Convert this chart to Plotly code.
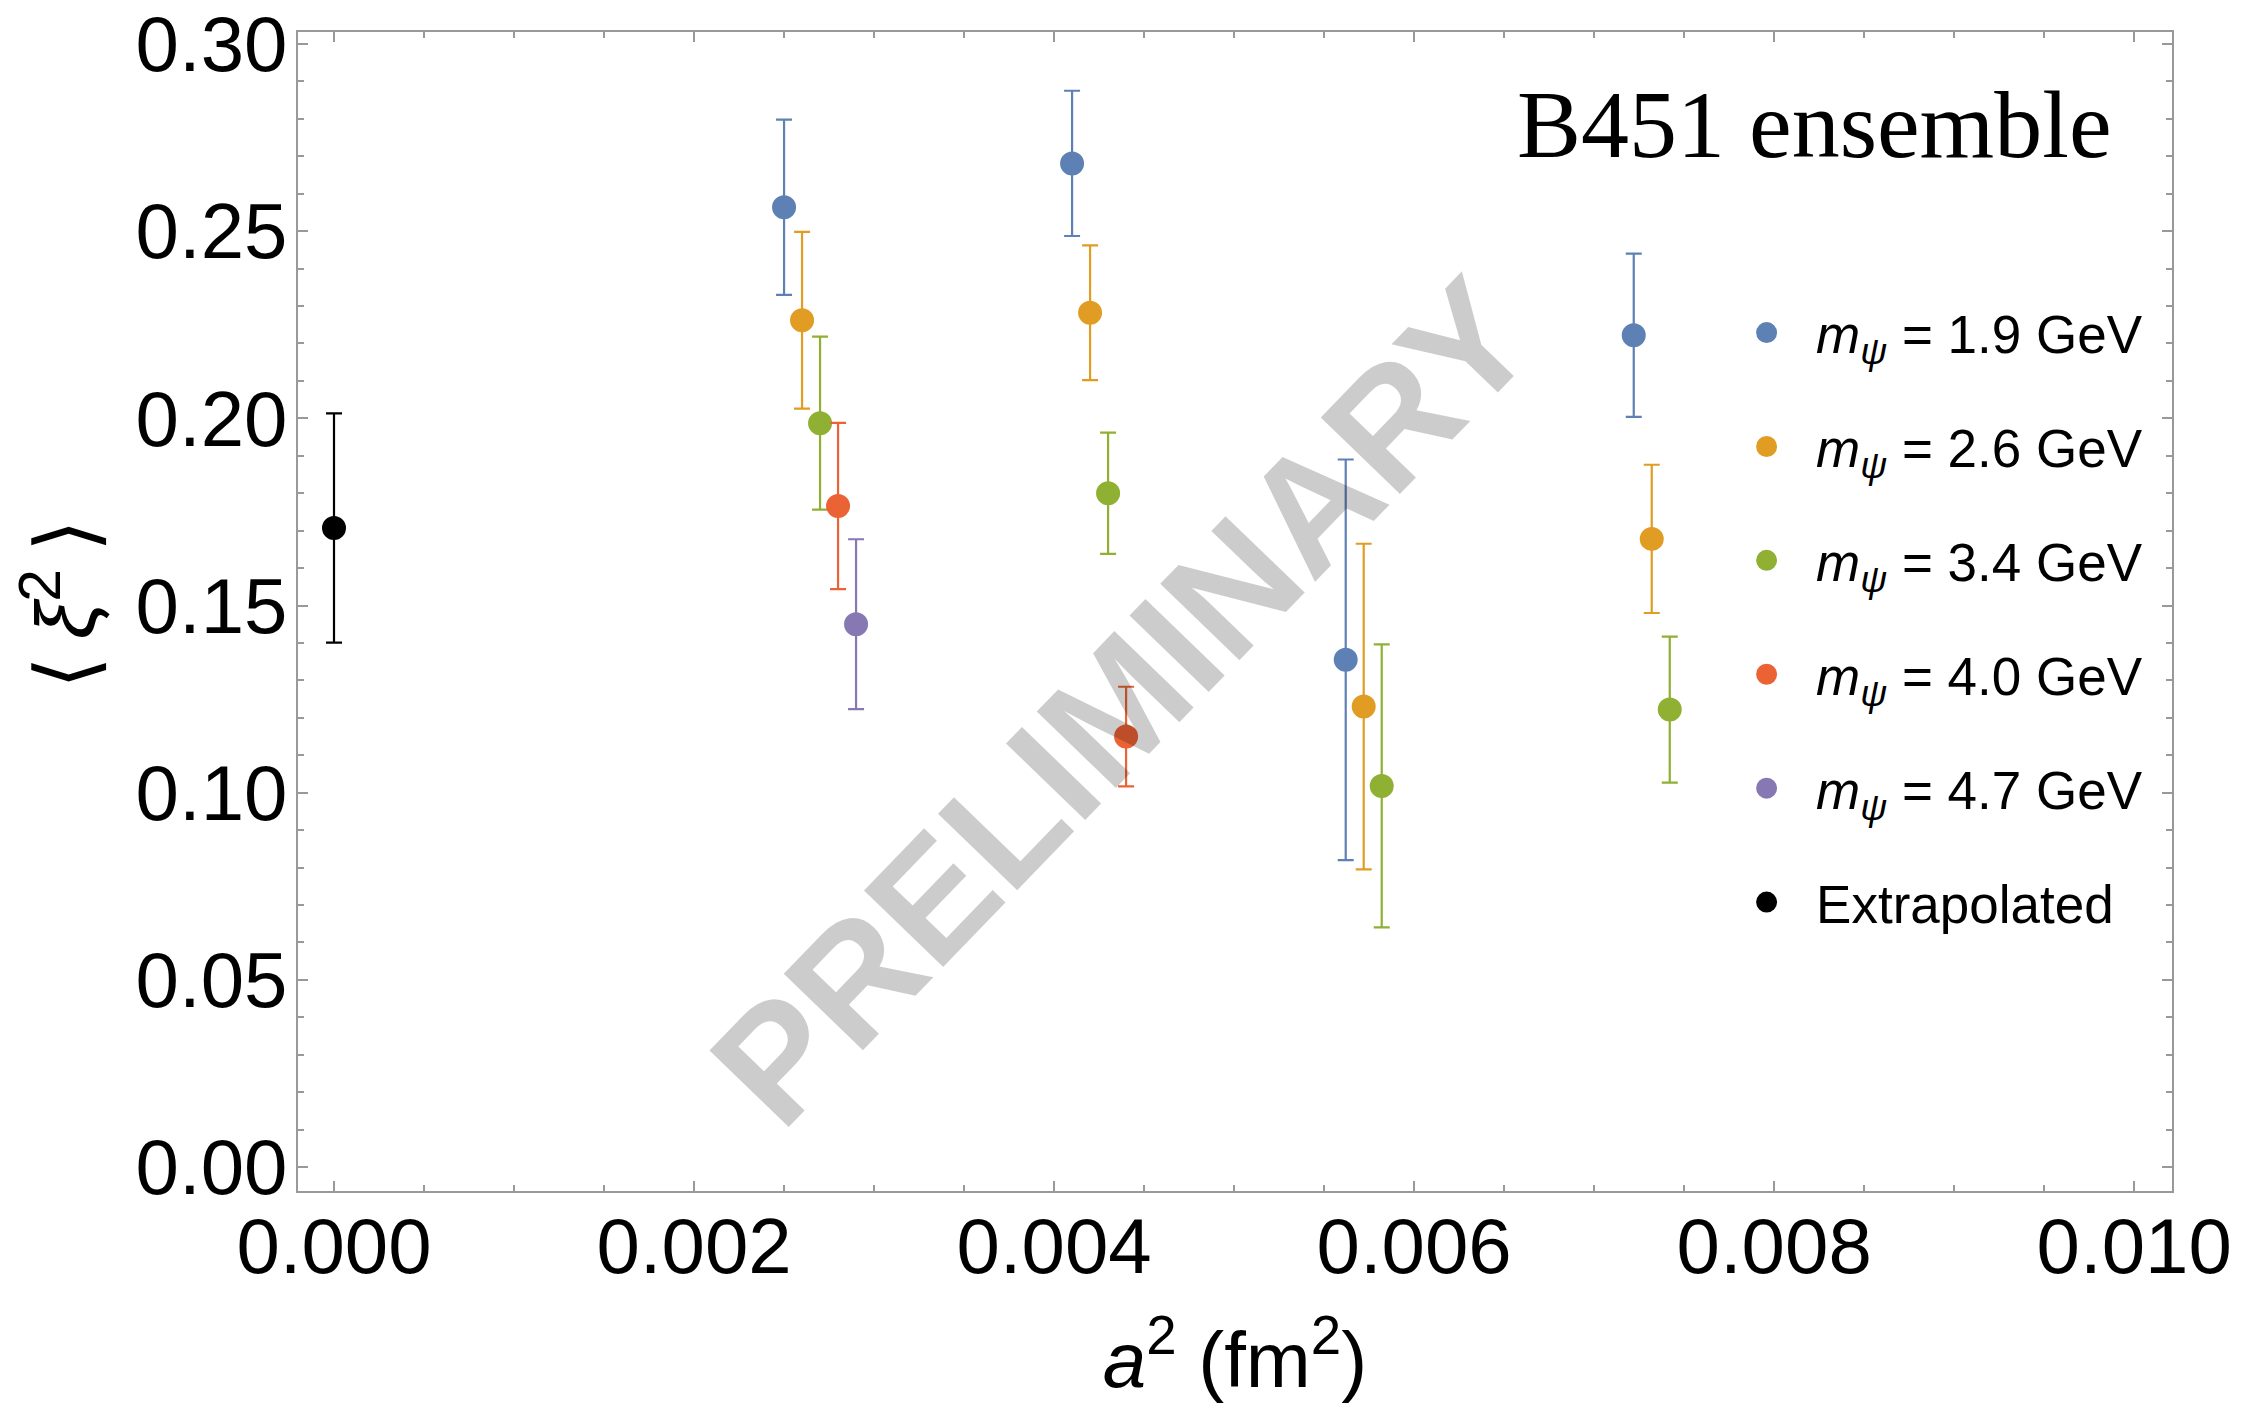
import plotly.graph_objects as go

# ---- data ----
a2_19 = [0.0025, 0.0041, 0.00562, 0.00722]
xi2_19 = [0.2564, 0.2681, 0.1355, 0.2222]
err_19 = [0.0234, 0.0194, 0.0535, 0.0218]

a2_26 = [0.0026, 0.0042, 0.00572, 0.00732]
xi2_26 = [0.2262, 0.2282, 0.1230, 0.1678]
err_26 = [0.0236, 0.0180, 0.0435, 0.0198]

a2_34 = [0.0027, 0.0043, 0.00582, 0.00742]
xi2_34 = [0.1987, 0.1800, 0.1018, 0.1222]
err_34 = [0.0231, 0.0162, 0.0378, 0.0195]

a2_40 = [0.0028, 0.0044]
xi2_40 = [0.1766, 0.1150]
err_40 = [0.0222, 0.0133]

a2_47 = [0.0029]
xi2_47 = [0.1450]
err_47 = [0.0227]

a2_ex = [0.0]
xi2_ex = [0.1707]
err_ex = [0.0306]

labels = ["1.9", "2.6", "3.4", "4.0", "4.7"]
colors = ["#5E81B5", "#E19C24", "#8FB032", "#EB6235", "#8778B3"]

x_ticks = [0.000, 0.002, 0.004, 0.006, 0.008, 0.010]
y_ticks = [0.00, 0.05, 0.10, 0.15, 0.20, 0.25, 0.30]

FONT = "Liberation Sans"
NB = "\u00a0"

fig = go.Figure()

series = [
    (a2_19, xi2_19, err_19),
    (a2_26, xi2_26, err_26),
    (a2_34, xi2_34, err_34),
    (a2_40, xi2_40, err_40),
    (a2_47, xi2_47, err_47),
]
for i, (xs, ys, es) in enumerate(series):
    fig.add_trace(go.Scatter(
        x=xs, y=ys, mode="markers",
        name=NB * 2 + f"<i>m</i><sub><i>ψ</i></sub> = {labels[i]} GeV",
        legendgroup=f"g{i}",
        marker=dict(color=colors[i], size=19, line=dict(width=5, color=colors[i])),
        error_y=dict(type="data", array=es, visible=True, color=colors[i],
                     thickness=2.2, width=8),
    ))

fig.add_trace(go.Scatter(
    x=a2_ex, y=xi2_ex, mode="markers",
    name=NB * 2 + "Extrapolated", legendgroup="gex",
    marker=dict(color="black", size=19, line=dict(width=5, color="black")),
    error_y=dict(type="data", array=err_ex, visible=True, color="black",
                 thickness=2.2, width=8),
))

axis_common = dict(
    showgrid=False, zeroline=False, showline=True, linecolor="#999999",
    linewidth=2, ticks="inside", tickcolor="#999999", tickwidth=2,
    ticklen=10, mirror="allticks", automargin=False,
    tickfont=dict(family=FONT, size=78, color="black"),
)

fig.update_xaxes(
    range=[-0.0002, 0.01021], tickvals=x_ticks,
    ticktext=[f"{v:.3f}" for v in x_ticks], ticklabelstandoff=-14,
    minor=dict(dtick=0.0005, tick0=0, ticks="inside", ticklen=6,
               tickcolor="#999999", tickwidth=2),
    title=dict(text="<i>a</i><sup>2</sup> (fm<sup>2</sup>)",
               font=dict(family=FONT, size=78, color="black"), standoff=44),
    **axis_common,
)
fig.update_yaxes(
    range=[-0.0064, 0.3032], tickvals=y_ticks,
    ticktext=[f"{v:.2f}" for v in y_ticks], ticklabelstandoff=-7,
    minor=dict(dtick=0.01, tick0=0, ticks="inside", ticklen=6,
               tickcolor="#999999", tickwidth=2),
    **axis_common,
)

# y-axis title (as rotated annotation so it is not clamped to the margin)
fig.add_annotation(
    text="⟨\u2009<i>ξ</i><sup>2</sup>\u2009⟩", xref="paper", yref="paper",
    x=-0.1270, y=0.5063, xanchor="center", yanchor="middle",
    textangle=-90, showarrow=False,
    font=dict(family=FONT, size=84, color="black"),
)

fig.add_annotation(
    text="B451 ensemble", xref="paper", yref="paper", x=0.969, y=0.920,
    xanchor="right", yanchor="middle", showarrow=False,
    font=dict(family="Liberation Serif", size=96, color="black"),
)

fig.add_annotation(
    text="PRELIMINARY", xref="x", yref="y", x=0.00438, y=0.1243,
    showarrow=False, textangle=-46,
    font=dict(family=FONT, size=160, color="rgba(0,0,0,0.2)", weight="bold"),
)

fig.update_layout(
    width=2255, height=1406,
    margin=dict(l=298, r=83, t=32, b=215, autoexpand=False),
    paper_bgcolor="white", plot_bgcolor="white",
    showlegend=True,
    legend=dict(x=0.773, y=0.776, xanchor="left", yanchor="top",
                bgcolor="rgba(0,0,0,0)", tracegroupgap=42,
                font=dict(family=FONT, size=53, color="black"),
                itemsizing="trace"),
)

fig.write_html("out.html")
